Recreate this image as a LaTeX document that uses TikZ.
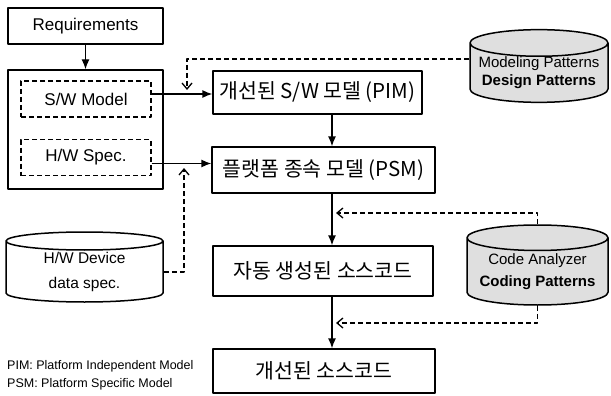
\documentclass[tikz,border=0pt]{standalone}
\usepackage{fontspec}
\setmainfont{Liberation Sans}
\newfontfamily\kr{Noto Sans CJK KR}
\usetikzlibrary{arrows.meta,shapes.geometric}

\begin{document}
\begin{tikzpicture}[
	x=1pt,
	y=-1pt,
	line join=round,
	>={Latex[length=10pt,width=8pt]},
	box/.style={draw, line width=1.3pt, inner sep=0pt},
	dbox/.style={draw, line width=1.3pt, dash pattern=on 5pt off 3pt, inner sep=0pt},
	kor/.style={font=\kr\fontsize{20.5}{22}\selectfont},
	store/.style={draw, line width=1.5pt, cylinder, shape border rotate=90, aspect=0.22, inner sep=0pt, align=center, anchor=shape center},
	link/.style={line width=1.3pt, ->},
	dashlink/.style={line width=1.3pt, dash pattern=on 5pt off 3pt, -{Straight Barb[length=6pt,width=10pt]}},
	]
\useasboundingbox (0,0) rectangle (611,396);
% left column
\node[box, minimum width=155, minimum height=36, font=\fontsize{17}{18}\selectfont] (req) at (85.5,26) {Requirements};
\node[box, minimum width=155, minimum height=119] (spec) at (85.5,129.5) {};
\node[dbox, minimum width=130, minimum height=36, font=\fontsize{17}{20}\selectfont] (swm) at (86,99) {S/W Model};
\node[dbox, minimum width=130, minimum height=36, font=\fontsize{17}{20}\selectfont] (hws) at (86,157.5) {H/W Spec.};
\node[store, fill=white, minimum width=157, minimum height=70, font=\fontsize{15.5}{25}\selectfont] (hwd) at (84.5,267) {H/W Device\\data spec.};
\node[anchor=north west, align=left, inner sep=0pt, font=\fontsize{12.5}{18}\selectfont] (note) at (7,360) {PIM: Platform Independent Model\\PSM: Platform Specific Model};
% model chain
\node[box, minimum width=209, minimum height=43, kor] (pim) at (317.5,92.5) {개선된 S/W 모델 (PIM)};
\node[box, minimum width=223, minimum height=46, kor] (psm) at (323.5,170) {플랫폼 종속 모델 (PSM)};
\node[box, minimum width=220, minimum height=50, kor] (src) at (323,271) {자동 생성된 소스코드};
\node[box, minimum width=222, minimum height=44, kor] (isrc) at (324,371) {개선된 소스코드};
% pattern stores
\node[store, fill=gray!25, minimum width=138, minimum height=72, font=\fontsize{15}{18}\selectfont] (dp) at (539,66) {Modeling Patterns\\\textbf{Design Patterns}};
\node[store, fill=gray!25, minimum width=141, minimum height=80, font=\fontsize{15}{22}\selectfont] (ca) at (537.5,265) {Code Analyzer\\\textbf{Coding Patterns}};
\coordinate (axis) at (332,0);
\coordinate (pimin) at (187,90);
\coordinate (psmin) at (184,168);
\coordinate (srcin) at (336,213);
\coordinate (isrcin) at (336,323);
\draw[link] (req) -- (spec);
\draw[link] ([yshift=5pt]swm.east) -- ([yshift=5pt]swm.east -| pim.west);
\draw[link] ([yshift=-6pt]hws.east) -- ([yshift=-6pt]hws.east -| psm.west);
\draw[link] (pim.south -| axis) -- (psm.north -| axis);
\draw[link] (psm.south -| axis) -- (src.north -| axis);
\draw[link] (src.south -| axis) -- (isrc.north -| axis);
\draw[dashlink] ([yshift=14pt]dp.west) -| (pimin);
\draw[dashlink] (ca.north) |- (srcin);
\draw[dashlink] (ca.south) |- (isrcin);
\draw[dashlink] (hwd.east) -| (psmin);
\end{tikzpicture}
\end{document}
